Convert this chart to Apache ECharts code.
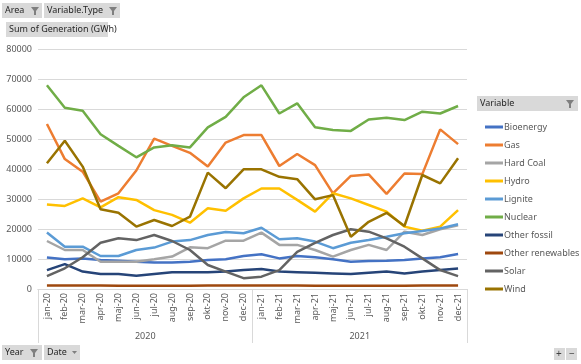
<!DOCTYPE html>
<html><head><meta charset="utf-8">
<script src="https://cdn.jsdelivr.net/npm/echarts@6/dist/echarts.min.js"></script>
<style>html,body{margin:0;padding:0;background:#fff}#c{width:581px;height:364px}</style>
</head><body><div id="c"></div>
<script>
const months = ['jan-20','feb-20','mar-20','apr-20','maj-20','jun-20','jul-20','aug-20','sep-20','okt-20','nov-20','dec-20','jan-21','feb-21','mar-21','apr-21','maj-21','jun-21','jul-21','aug-21','sep-21','okt-21','nov-21','dec-21'];
const years = ['2020','2021'];
const yTicks = [0,10000,20000,30000,40000,50000,60000,70000,80000];
const seriesNames = ['Bioenergy','Gas','Hard Coal','Hydro','Lignite','Nuclear','Other fossil','Other renewables','Solar','Wind'];
const bioenergy = [10500,9900,10200,9700,9400,9100,8800,8800,9100,9700,9900,11000,11600,10200,11000,10600,9900,9100,9300,9400,9700,10200,10600,11700];
const gas = [55000,43300,39100,29100,31900,39500,50100,47700,45400,40800,48800,51300,51300,41000,45000,41300,31900,37700,38200,31700,38500,38300,53200,48300];
const hardCoal = [16000,13000,13000,9100,9100,9100,9900,10800,13900,13600,16100,16100,18800,14700,14700,13000,10800,13000,14700,13000,19100,18000,19900,21200];
const hydro = [28200,27700,30200,27200,30600,29700,26300,24700,22100,26900,26100,30200,33500,33500,29700,25800,31900,30200,28000,25800,20800,19400,20800,26300];
const lignite = [18800,14100,14100,11000,11000,13000,13800,15800,16300,18000,19000,18600,20400,16600,16900,15800,13600,15400,16300,17400,18600,19300,20200,21600];
const nuclear = [67900,60400,59400,51600,47700,43900,47200,47900,47200,53900,57400,63900,67900,58500,61900,53900,53000,52700,56500,57100,56300,59100,58500,61000];
const otherFossil = [6300,8300,5800,5000,5000,4400,5000,5600,5600,5600,5800,6300,6700,5800,5600,5400,5200,5000,5400,5800,5200,5800,6300,6800];
const otherRenewables = [1200,1200,1200,1200,1100,1100,1100,1100,1100,1200,1200,1200,1200,1200,1200,1100,1100,1100,1100,1100,1100,1200,1200,1200];
const solar = [4300,6900,10600,15400,16900,16300,18000,16000,13000,8000,5800,3600,4100,6300,12400,15400,18000,19900,19100,16900,14100,10200,6300,4300];
const wind = [41900,49400,40800,26600,25400,20800,23000,21000,24100,38800,33600,39900,39900,37400,36600,29900,31300,17400,22400,25400,21000,38000,35200,43600];
const seriesData = [bioenergy,gas,hardCoal,hydro,lignite,nuclear,otherFossil,otherRenewables,solar,wind];
const colors = ['#4472C4','#ED7D31','#A5A5A5','#FFC000','#5B9BD5','#70AD47','#264478','#9E480E','#636363','#997300'];

const FONT = 'Noto Sans';
const TXT = '#595959';
const BTN = '#d9d9d9';

function funnel(x, y){
  return {type:'polygon', shape:{points:[[x,y],[x+8,y],[x+5,y+4],[x+5,y+8],[x+3,y+8],[x+3,y+4]]}, style:{fill:'#7f7f7f'}, z:20};
}
function btn(x,y,w,h,label){
  return [
    {type:'rect', shape:{x:x,y:y,width:w,height:h}, style:{fill:BTN}, z:10},
    {type:'text', x:x+3, y:y+h/2, style:{text:label, font:'9px "'+FONT+'"', fill:'#262626', verticalAlign:'middle'}, z:20}
  ];
}

const graphics = [].concat(
  btn(2,3,40,15,'Area'), [funnel(31,7)],
  btn(44,3,76,15,'Variable.Type'), [funnel(109,7)],
  btn(6,22,102,15,'Sum of Generation (GWh)'),
  btn(477,96,101,15,'Variable'), [funnel(566,100)],
  btn(2,345,40,15,'Year'), [funnel(30,349)],
  btn(44,345,36,15,'Date'),
  [{type:'polygon', shape:{points:[[72,351],[77,351],[74.5,354]]}, style:{fill:'#7f7f7f'}, z:20}],
  [{type:'rect', shape:{x:554,y:348,width:11,height:12}, style:{fill:BTN}, z:10},
   {type:'text', x:556, y:354, style:{text:'+', font:'10px "'+FONT+'"', fill:'#404040', verticalAlign:'middle'}, z:20},
   {type:'rect', shape:{x:566,y:348,width:11,height:12}, style:{fill:BTN}, z:10},
   {type:'text', x:569, y:354, style:{text:'−', font:'10px "'+FONT+'"', fill:'#404040', verticalAlign:'middle'}, z:20}]
);

const chart = echarts.init(document.getElementById('c'), null, {renderer:'canvas'});
chart.setOption({
  animation:false,
  color: colors,
  textStyle:{fontFamily:FONT},
  grid:{left:38, right:114, top:49, bottom:75, containLabel:false},
  legend:{
    orient:'vertical', left:480, top:116, itemWidth:18, itemHeight:3, itemGap:6,
    icon:'rect',
    data: seriesNames,
    textStyle:{color:TXT, fontSize:9, fontFamily:FONT, lineHeight:12, padding:[0,0,0,-4]}
  },
  xAxis:[
    {type:'category', data:months, boundaryGap:true,
     axisLine:{show:true, lineStyle:{color:'#d9d9d9'}},
     axisTick:{show:false},
     axisLabel:{rotate:90, fontSize:9, color:TXT, margin:4, fontFamily:FONT, interval:0}},
    {type:'category', data:years, boundaryGap:true, position:'bottom',
     axisLine:{show:true, lineStyle:{color:'#d9d9d9'}},
     axisTick:{show:true, length:54, lineStyle:{color:'#d9d9d9'}},
     axisLabel:{fontSize:9, color:TXT, margin:43, fontFamily:FONT}}
  ],
  yAxis:{type:'value', min:yTicks[0], max:yTicks[yTicks.length-1], interval:10000,
    axisLine:{show:false}, axisTick:{show:false},
    axisLabel:{fontSize:9, color:TXT, margin:6, fontFamily:FONT, formatter:(v)=>String(v)},
    splitLine:{lineStyle:{color:'#d9d9d9'}}},
  series: seriesNames.map((n,i)=>({
    name:n, type:'line', data:seriesData[i], xAxisIndex:0,
    showSymbol:false, symbol:'none', lineStyle:{width:2.5, color:colors[i]}, itemStyle:{color:colors[i]}, z:5
  })),
  graphic: graphics
});
</script></body></html>
